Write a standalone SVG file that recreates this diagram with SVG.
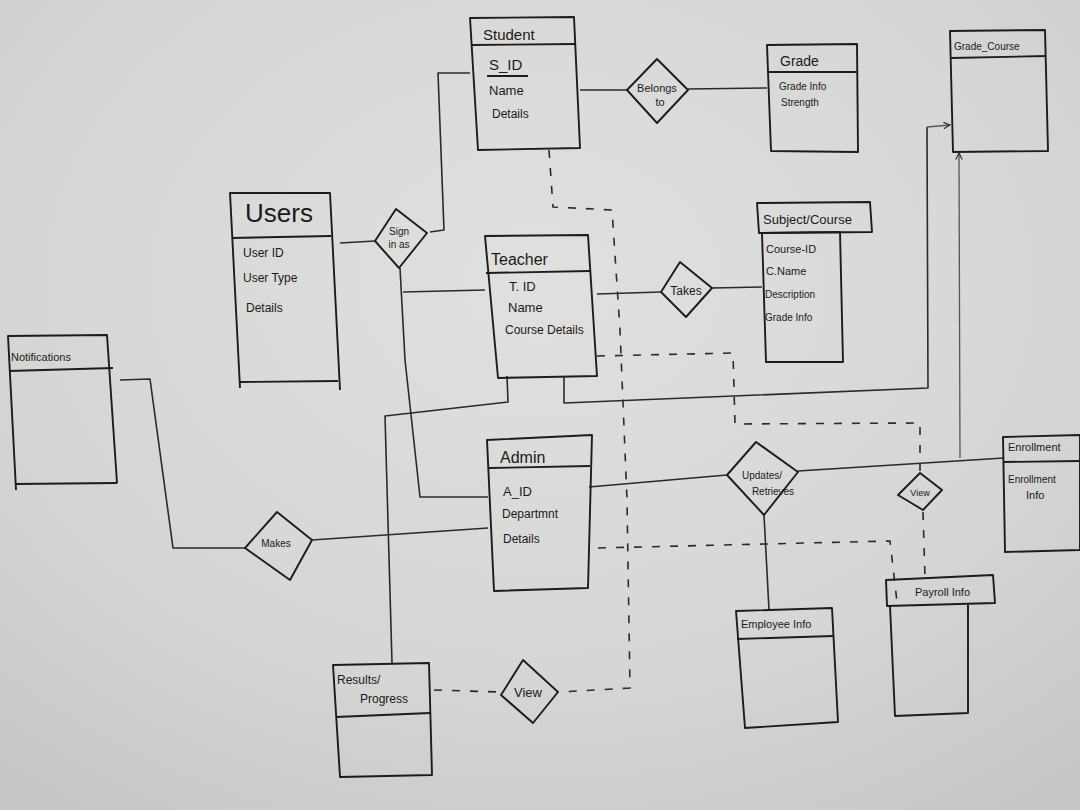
<svg xmlns="http://www.w3.org/2000/svg" width="1080" height="810" viewBox="0 0 1080 810">
<defs>
<radialGradient id="paper" cx="0.5" cy="0.35" r="0.8">
<stop offset="0" stop-color="#e0e0de"/>
<stop offset="0.6" stop-color="#d6d6d4"/>
<stop offset="1" stop-color="#c6c6c4"/>
</radialGradient>
<marker id="arr" viewBox="0 0 10 10" refX="9" refY="5" markerWidth="8" markerHeight="8" orient="auto-start-reverse" markerUnits="userSpaceOnUse">
<path d="M1,1 L9,5 L1,9" fill="none" stroke="#2a2a2a" stroke-width="1.4"/>
</marker>
<style>
.b{fill:none;stroke:#1c1c1c;stroke-width:1.9;stroke-linejoin:round}
.l{fill:none;stroke:#2a2a2a;stroke-width:1.6;stroke-linejoin:round}
.t{fill:none;stroke:#555;stroke-width:1.3}
.d{fill:none;stroke:#2a2a2a;stroke-width:1.6;stroke-dasharray:8 10}
text{font-family:"Liberation Sans","DejaVu Sans",sans-serif;fill:#1a1a1a}
</style>
</defs>
<rect width="1080" height="810" fill="url(#paper)"/>

<g id="connectors">
<polyline class="l" points="470,73 438,73 444,230 430,232"/>
<line class="l" x1="340" y1="243" x2="375" y2="241"/>
<polyline class="l" points="400,268 405,360 420,497 488,497"/>
<line class="l" x1="403" y1="292" x2="485" y2="290"/>
<line class="l" x1="580" y1="90" x2="627" y2="90"/>
<line class="l" x1="688" y1="89" x2="767" y2="88"/>
<line class="l" x1="597" y1="294" x2="661" y2="292"/>
<line class="l" x1="712" y1="288" x2="762" y2="287"/>
<polyline class="l" points="507,376 508,402 385,416 392,663"/>
<polyline class="l" points="564,376 564,403 928,388 927,127"/>
<line class="t" x1="927" y1="127" x2="950" y2="125" marker-end="url(#arr)"/>
<line class="t" x1="960" y1="458" x2="959" y2="153" marker-end="url(#arr)"/>
<line class="l" x1="589" y1="487" x2="727" y2="475"/>
<line class="l" x1="798" y1="471" x2="1004" y2="458"/>
<line class="l" x1="764" y1="515" x2="769" y2="610"/>
<polyline class="l" points="120,380 150,379 173,548 246,548"/>
<line class="l" x1="312" y1="540" x2="488" y2="528"/>
<polyline class="d" points="549,150 553,207 612,210 620,330 627,500 630,688 560,692"/>
<line class="d" x1="434" y1="690" x2="500" y2="692"/>
<polyline class="d" points="597,356 733,353 735,424 920,423 920,473"/>
<line class="d" x1="923" y1="512" x2="925" y2="578"/>
<polyline class="d" points="598,548 890,541 897,602"/>
</g>

<g id="student">
<polygon class="b" points="470,18 574,17 580,148 478,150"/>
<line class="b" x1="472" y1="45" x2="576" y2="44"/>
<text x="483" y="40" font-size="15">Student</text>
<text x="489" y="70" font-size="15">S_ID</text>
<line class="b" x1="487" y1="76" x2="528" y2="76"/>
<text x="489" y="95" font-size="13">Name</text>
<text x="492" y="118" font-size="12">Details</text>
</g>

<g id="belongs_to">
<polygon class="b" points="657,59 688,90 657,123 627,90"/>
<text x="657" y="92" font-size="11" text-anchor="middle">Belongs</text>
<text x="660" y="106" font-size="11" text-anchor="middle">to</text>
</g>

<g id="grade">
<polygon class="b" points="767,45 857,44 858,152 771,151"/>
<line class="b" x1="768" y1="72" x2="857" y2="72"/>
<text x="780" y="66" font-size="14">Grade</text>
<text x="779" y="90" font-size="10">Grade Info</text>
<text x="781" y="106" font-size="10">Strength</text>
</g>

<g id="grade_course">
<polygon class="b" points="950,31 1045,30 1048,151 953,152"/>
<line class="b" x1="951" y1="58" x2="1046" y2="56"/>
<text x="954" y="50" font-size="10">Grade_Course</text>
</g>

<g id="users">
<polyline class="b" points="240,388 230,193 330,193 340,390"/>
<line class="b" x1="232" y1="238" x2="331" y2="236"/>
<line class="b" x1="240" y1="382" x2="338" y2="381"/>
<text x="245" y="222" font-size="26">Users</text>
<text x="243" y="257" font-size="12">User ID</text>
<text x="243" y="282" font-size="12">User Type</text>
<text x="246" y="312" font-size="12">Details</text>
</g>

<g id="sign_in_as">
<polygon class="b" points="396,209 427,233 399,268 375,241"/>
<text x="399" y="235" font-size="10" text-anchor="middle">Sign</text>
<text x="399" y="248" font-size="10" text-anchor="middle">in as</text>
</g>

<g id="teacher">
<polygon class="b" points="485,236 588,235 597,376 498,378"/>
<line class="b" x1="486" y1="273" x2="590" y2="271"/>
<text x="491" y="265" font-size="16">Teacher</text>
<text x="509" y="291" font-size="13">T. ID</text>
<text x="508" y="312" font-size="13">Name</text>
<text x="505" y="334" font-size="12">Course Details</text>
</g>

<g id="takes">
<polygon class="b" points="680,262 712,288 686,317 661,292"/>
<text x="686" y="295" font-size="12" text-anchor="middle">Takes</text>
</g>

<g id="subject_course">
<polygon class="b" points="757,203 870,202 872,232 759,233"/>
<polygon class="b" points="762,233 840,232 843,362 766,362"/>
<text x="763" y="224" font-size="13">Subject/Course</text>
<text x="766" y="253" font-size="11">Course-ID</text>
<text x="766" y="275" font-size="11">C.Name</text>
<text x="765" y="298" font-size="10">Description</text>
<text x="765" y="321" font-size="10">Grade Info</text>
</g>

<g id="notifications">
<polyline class="b" points="16,490 8,336 107,335 117,483"/>
<line class="b" x1="15" y1="484" x2="117" y2="483"/>
<line class="b" x1="9" y1="371" x2="113" y2="368"/>
<text x="11" y="361" font-size="11">Notifications</text>
</g>

<g id="makes">
<polygon class="b" points="277,512 312,540 290,580 245,548"/>
<text x="276" y="547" font-size="10" text-anchor="middle">Makes</text>
</g>

<g id="admin">
<polygon class="b" points="487,440 592,435 588,588 494,591"/>
<line class="b" x1="489" y1="468" x2="590" y2="466"/>
<text x="500" y="463" font-size="16">Admin</text>
<text x="503" y="496" font-size="13">A_ID</text>
<text x="502" y="518" font-size="12">Departmnt</text>
<text x="503" y="543" font-size="12">Details</text>
</g>

<g id="updates_retrieves">
<polygon class="b" points="756,442 798,472 764,515 727,475"/>
<text x="762" y="479" font-size="10" text-anchor="middle">Updates/</text>
<text x="773" y="495" font-size="10" text-anchor="middle">Retrieves</text>
</g>

<g id="view_right">
<polygon class="b" points="920,473 942,490 923,510 898,495"/>
<text x="920" y="496" font-size="9" text-anchor="middle">View</text>
</g>

<g id="enrollment">
<polygon class="b" points="1003,437 1080,435 1080,550 1005,552"/>
<line class="b" x1="1004" y1="462" x2="1080" y2="461"/>
<text x="1008" y="451" font-size="11">Enrollment</text>
<text x="1008" y="483" font-size="10">Enrollment</text>
<text x="1026" y="499" font-size="11">Info</text>
</g>

<g id="payroll_info">
<polygon class="b" points="886,580 993,575 995,603 887,606"/>
<polyline class="b" points="890,606 895,716 968,713 968,605"/>
<text x="915" y="596" font-size="11">Payroll Info</text>
</g>

<g id="employee_info">
<polygon class="b" points="736,611 832,608 838,722 745,728"/>
<line class="b" x1="737" y1="639" x2="833" y2="636"/>
<text x="741" y="628" font-size="11">Employee Info</text>
</g>

<g id="results_progress">
<polygon class="b" points="333,665 429,663 432,775 340,777"/>
<line class="b" x1="336" y1="717" x2="430" y2="713"/>
<text x="337" y="684" font-size="12">Results/</text>
<text x="360" y="703" font-size="12">Progress</text>
</g>

<g id="view_bottom">
<polygon class="b" points="523,660 558,692 533,723 501,695"/>
<text x="528" y="697" font-size="13" text-anchor="middle">View</text>
</g>
</svg>
